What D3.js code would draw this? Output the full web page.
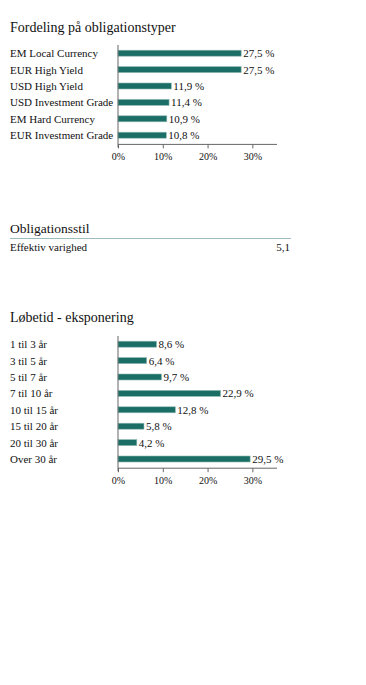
<!DOCTYPE html>
<html>
<head>
<meta charset="utf-8">
<script src="https://cdn.jsdelivr.net/npm/d3@7"></script>
<style>
  body { margin: 0; background: #fff; }
  svg text { font-family: "Liberation Serif", "Times New Roman", "DejaVu Serif", serif !important; fill: #111; }
</style>
</head>
<body>
<script>
var w = 366;
var h = 685;

// bond types
var typeNames = ["EM Local Currency", "EUR High Yield", "USD High Yield",
  "USD Investment Grade", "EM Hard Currency", "EUR Investment Grade"];
var typeValues = [27.5, 27.5, 11.9, 11.4, 10.9, 10.8];

// maturity exposure
var maturityNames = ["1 til 3 år", "3 til 5 år", "5 til 7 år", "7 til 10 år",
  "10 til 15 år", "15 til 20 år", "20 til 30 år", "Over 30 år"];
var maturityValues = [8.6, 6.4, 9.7, 22.9, 12.8, 5.8, 4.2, 29.5];

var tickValues = [0, 10, 20, 30];
var duration = "5,1";

var barColor = "#1b6e66";
var serif = "'Liberation Serif', 'Times New Roman', serif";

var svg = d3.select("body")
  .append("svg")
  .attr("width", w)
  .attr("height", h)
  .style("font-family", serif);

function fmt(v) {
  return d3.format(".1f")(v).replace(".", ",") + " %";
}

// draws one horizontal bar chart, top = y of first row band
function barChart(title, titleY, names, values, top) {
  svg.append("text")
    .attr("x", 10)
    .attr("y", titleY)
    .style("font-family", serif)
    .style("font-size", "14px")
    .text(title);

  var x = d3.scaleLinear().domain([0, 35.5]).range([118, 277]);
  var y = d3.scaleBand()
    .domain(names)
    .range([top, top + names.length * 16.4]);

  var g = svg.append("g");

  g.selectAll("text.cat")
    .data(names)
    .enter()
    .append("text")
    .attr("class", "cat")
    .attr("x", 10)
    .attr("y", function(d) { return y(d) + y.bandwidth() / 2 + 4; })
    .style("font-family", serif)
    .style("font-size", "11px")
    .text(function(d) { return d; });

  g.selectAll("rect")
    .data(values)
    .enter()
    .append("rect")
    .attr("x", x(0))
    .attr("y", function(d, i) { return y(names[i]) + y.bandwidth() / 2 - 3; })
    .attr("width", function(d) { return x(d) - x(0); })
    .attr("height", 6)
    .attr("fill", barColor)
    .attr("stroke", "#8fb8b3")
    .attr("stroke-width", 0.6);

  g.selectAll("text.val")
    .data(values)
    .enter()
    .append("text")
    .attr("class", "val")
    .attr("x", function(d) { return x(d) + 2; })
    .attr("y", function(d, i) { return y(names[i]) + y.bandwidth() / 2 + 4; })
    .style("font-family", serif)
    .style("font-size", "11px")
    .text(fmt);

  var bottom = top + names.length * 16.4 + 1;

  // vertical baseline
  g.append("line")
    .attr("x1", x(0)).attr("x2", x(0))
    .attr("y1", top).attr("y2", bottom + 3)
    .attr("stroke", "#666");

  var axis = d3.axisBottom(x)
    .tickValues(tickValues)
    .tickSize(4)
    .tickFormat(function(d) { return d + "%"; });

  var ax = svg.append("g")
    .attr("transform", "translate(0," + bottom + ")")
    .call(axis)
    .attr("font-family", null);
  ax.select(".domain").attr("stroke", "#666").attr("d", "M" + x(0) + ",0H" + x.range()[1]);
  ax.selectAll(".tick line").attr("stroke", "#666");
  ax.selectAll(".tick text")
    .style("font-family", serif)
    .style("font-size", "10px")
    .attr("fill", "#111")
    .attr("dy", "0.9em");
}

barChart("Fordeling på obligationstyper", 32, typeNames, typeValues, 45);

// bond style block
svg.append("text")
  .attr("x", 10)
  .attr("y", 233)
  .style("font-family", serif)
  .style("font-size", "13.5px")
  .text("Obligationsstil");
svg.append("line")
  .attr("x1", 10).attr("x2", 291)
  .attr("y1", 238.5).attr("y2", 238.5)
  .attr("stroke", "#9cbcbf");
svg.append("text")
  .attr("x", 10)
  .attr("y", 251)
  .style("font-family", serif)
  .style("font-size", "11px")
  .text("Effektiv varighed");
svg.append("text")
  .attr("x", 290)
  .attr("y", 251)
  .attr("text-anchor", "end")
  .style("font-family", serif)
  .style("font-size", "11px")
  .text(duration);

barChart("Løbetid - eksponering", 322, maturityNames, maturityValues, 336);
</script>
</body>
</html>
